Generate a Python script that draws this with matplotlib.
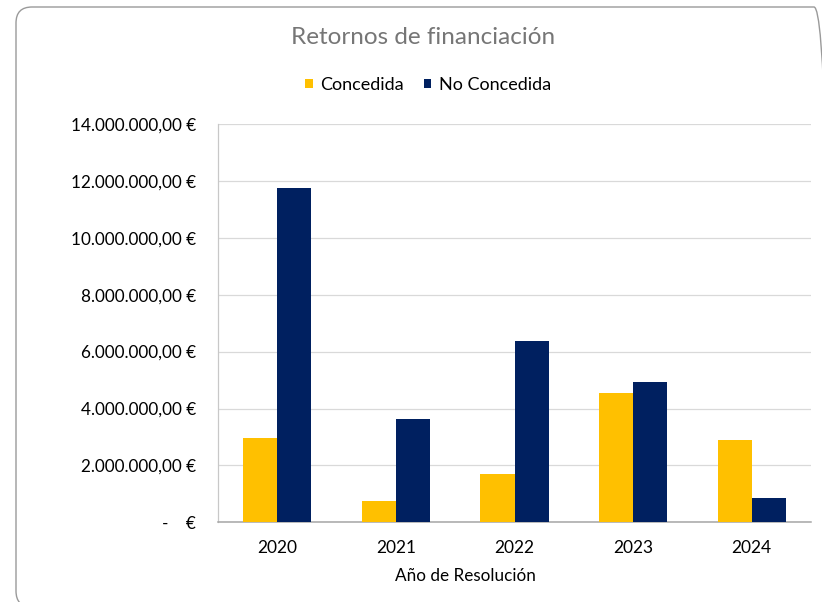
import matplotlib
matplotlib.use("Agg")
import matplotlib.pyplot as plt
from matplotlib.patches import FancyBboxPatch
from matplotlib.transforms import IdentityTransform
import numpy as np

years = ["2020", "2021", "2022", "2023", "2024"]
concedida = [2.96e6, 0.76e6, 1.71e6, 4.53e6, 2.89e6]
no_concedida = [11.75e6, 3.64e6, 6.36e6, 4.92e6, 0.85e6]
series_names = ["Concedida", "No Concedida"]
y_ticks = [0, 2e6, 4e6, 6e6, 8e6, 10e6, 12e6, 14e6]

plt.rcParams["font.family"] = ["Lato", "DejaVu Sans"]

YELLOW = "#FFC000"
NAVY = "#002060"


def euro(v):
    if v == 0:
        return "-    €"
    s = f"{v:,.2f}"
    s = s.replace(",", "X").replace(".", ",").replace("X", ".")
    return s + " €"


fig = plt.figure(figsize=(8.22, 6.02), dpi=100)
fig.patch.set_facecolor("white")

# rounded chart-area frame
frame = FancyBboxPatch((16, -5), 814, 600,
                       boxstyle="round,pad=0,rounding_size=16",
                       transform=IdentityTransform(),
                       facecolor="none", edgecolor="#9A9A9A", linewidth=1.0)
fig.patches.append(frame)

ax = fig.add_axes([218 / 822, 1 - 522.3 / 602, (811 - 218) / 822, (522.3 - 124) / 602])

x = np.arange(len(years))
w = 0.287
b1 = ax.bar(x - w / 2, concedida, width=w, color=YELLOW, label=series_names[0], zorder=3)
b2 = ax.bar(x + w / 2, no_concedida, width=w, color=NAVY, label=series_names[1], zorder=3)

ax.set_xlim(-0.5, len(years) - 0.5)
ax.set_ylim(0, 14e6)
ax.set_yticks(y_ticks)
ax.set_yticklabels([euro(v) for v in y_ticks])
ax.set_xticks(x)
ax.set_xticklabels(years)
ax.tick_params(axis="y", length=0, labelsize=12.3, colors="black", pad=16)
ax.tick_params(axis="x", length=0, labelsize=12.5, colors="black", pad=13)

ax.grid(axis="y", color="#D9D9D9", linewidth=0.9, zorder=0)
ax.set_axisbelow(True)
for side in ("top", "right"):
    ax.spines[side].set_visible(False)
ax.spines["left"].set_color("#C8C8C8")
ax.spines["left"].set_linewidth(0.9)
ax.spines["bottom"].set_color("#A6A6A6")
ax.spines["bottom"].set_linewidth(1.1)

fig.text(423.5 / 822, 1 - 38 / 602, "Retornos de financiación", ha="center", va="center",
         fontsize=17.5, color="#767676")
fig.text(465 / 822, 1 - 576 / 602, "Año de Resolución", ha="center", va="center",
         fontsize=12.3, color="black")

fig.legend(handles=[b1, b2], labels=series_names, loc="center",
           bbox_to_anchor=(428 / 822, 1 - 85 / 602), ncol=2, frameon=False,
           fontsize=13, handlelength=0.4, handleheight=0.4, handletextpad=0.4,
           columnspacing=1.15, borderaxespad=0)

fig.savefig("out.png", dpi=100)
